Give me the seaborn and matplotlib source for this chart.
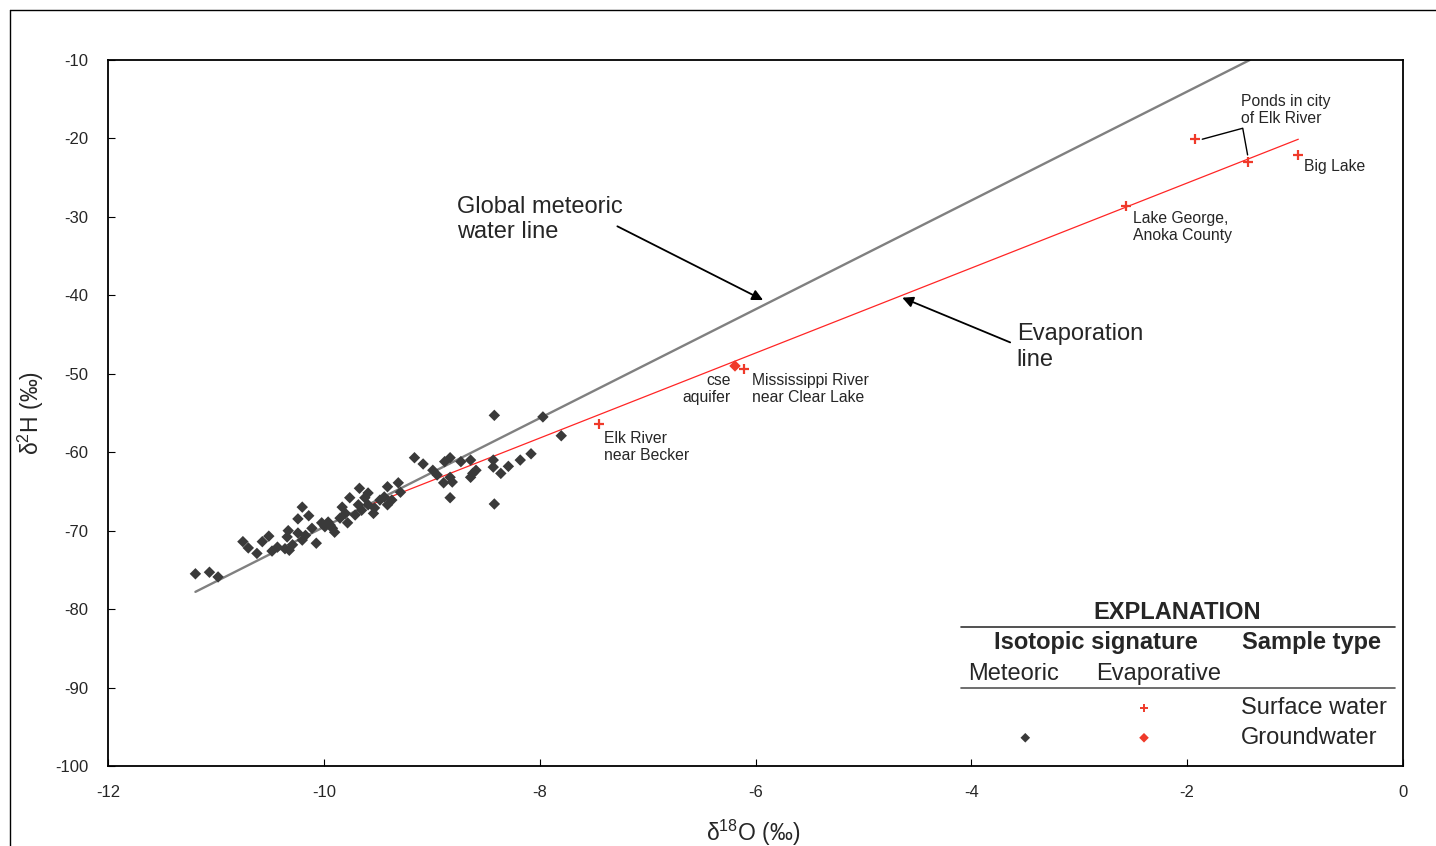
import matplotlib
matplotlib.use("Agg")
import matplotlib.pyplot as plt
from matplotlib.lines import Line2D
import seaborn as sns

sns.set_style("white")
plt.rcParams['font.family'] = ['Liberation Sans', 'DejaVu Sans']
plt.rcParams['mathtext.fontset'] = 'custom'
plt.rcParams['mathtext.rm'] = 'Liberation Sans'
plt.rcParams['mathtext.it'] = 'Liberation Sans'

# ---------------- data ----------------
# Groundwater, meteoric signature (delta 18O, delta 2H, per mil)
gw_d18o = [-11.19, -11.06, -10.98, -10.75, -10.70, -10.62, -10.57, -10.51, -10.48, -10.43,
           -10.36, -10.32, -10.34, -10.33, -10.24, -10.20, -10.14, -10.24, -10.20, -10.17,
           -10.07, -10.02, -9.96, -9.92, -9.90, -9.83, -9.80, -9.76, -9.78, -9.67,
           -9.59, -9.59, -9.65, -9.54, -9.48, -9.44, -9.41, -9.41, -9.31, -9.29,
           -9.16, -9.08, -8.99, -8.95, -8.88, -8.83, -8.89, -8.83, -8.81, -8.83,
           -8.73, -8.64, -8.59, -8.62, -8.64, -8.42, -8.43, -8.43, -8.36, -8.29,
           -8.18, -8.08, -8.42, -7.97, -7.80,
           -9.99, -9.94, -9.85, -9.71, -9.68, -9.62, -9.53, -9.37, -10.29, -10.11]
gw_d2h = [-75.5, -75.3, -75.9, -71.4, -72.2, -72.9, -71.4, -70.7, -72.6, -72.1,
          -72.3, -72.5, -70.8, -70.0, -68.5, -67.0, -68.1, -70.3, -71.2, -70.6,
          -71.6, -69.0, -68.9, -69.7, -70.2, -67.0, -67.8, -65.8, -69.0, -64.6,
          -65.2, -66.7, -67.4, -67.8, -66.1, -65.7, -66.7, -64.4, -63.9, -65.1,
          -60.7, -61.5, -62.3, -62.9, -61.2, -60.7, -63.9, -63.2, -63.8, -65.8,
          -61.2, -61.0, -62.3, -62.7, -63.2, -55.3, -61.0, -61.9, -62.7, -61.8,
          -61.0, -60.2, -66.6, -55.5, -57.9,
          -69.5, -69.3, -68.4, -68.0, -66.7, -65.8, -67.1, -66.1, -71.8, -69.7]

# Surface water, evaporative signature
sw_names = ["Elk River near Becker", "Mississippi River near Clear Lake",
            "Lake George, Anoka County", "Pond 1", "Pond 2", "Big Lake"]
sw_d18o = [-7.45, -6.11, -2.57, -1.93, -1.44, -0.97]
sw_d2h = [-56.4, -49.4, -28.6, -20.1, -23.0, -22.1]

# Groundwater, evaporative signature
gwe_d18o = [-6.19]
gwe_d2h = [-49.0]

# Reference lines
gmwl_x = [-11.19, -1.42]
gmwl_y = [-77.8, -10.0]
evap_x = [-9.55, -0.97]
evap_y = [-66.6, -20.1]

x_ticks = [-12, -10, -8, -6, -4, -2, 0]
y_ticks = [-10, -20, -30, -40, -50, -60, -70, -80, -90, -100]

# ---------------- styles ----------------
GRAY_PT = '#3a3a3a'
GRAY_LINE = '#808080'
RED_LINE = '#ff2525'
RED_PT = '#ef3a2a'

fig = plt.figure(figsize=(14.36, 8.46), dpi=100)
ax = fig.add_axes([108/1436, 1 - 766/846, (1403 - 108)/1436, (766 - 60)/846])

sns.lineplot(x=gmwl_x, y=gmwl_y, color=GRAY_LINE, lw=1.7, ax=ax, zorder=2, sort=False)
sns.lineplot(x=evap_x, y=evap_y, color=RED_LINE, lw=0.9, ax=ax, zorder=2, sort=False)

sns.scatterplot(x=gw_d18o, y=gw_d2h, marker='D', s=34, color=GRAY_PT, edgecolor='none',
                ax=ax, zorder=3)
sns.scatterplot(x=sw_d18o, y=sw_d2h, marker='+', s=42, color=RED_PT, linewidth=1.6,
                ax=ax, zorder=3)
sns.scatterplot(x=gwe_d18o, y=gwe_d2h, marker='D', s=34, color=RED_PT, edgecolor='none',
                ax=ax, zorder=3)

ax.set_xlim(-12, 0)
ax.set_ylim(-100, -10)
ax.set_xticks(x_ticks)
ax.set_yticks(y_ticks)
ax.set_xticklabels([str(t) for t in x_ticks])
ax.set_yticklabels([str(t) for t in y_ticks])
ax.tick_params(direction='in', length=5, width=0.8, color='black', labelsize=12,
               pad=14, bottom=True, left=True)
for sp in ax.spines.values():
    sp.set_color('black')
    sp.set_linewidth(1.3)

xl = ax.set_xlabel('δ$^{18}$O (‰)', fontsize=16.5)
ax.xaxis.set_label_coords((753 - 108) / 1295, (766 - 833) / 706)
xl.set_va('center')
yl = ax.set_ylabel('δ$^{2}$H (‰)', fontsize=16.5)
ax.yaxis.set_label_coords((31 - 108) / 1295, 0.5)
yl.set_va('center')

# ---------------- annotations ----------------
big = 17
small = 11.3
ax.text(-8.77, -30.3, "Global meteoric\nwater line", fontsize=big, ha='left', va='center',
        linespacing=1.2)
ax.annotate('', xy=(-5.93, -40.6), xytext=(-7.28, -31.2),
            arrowprops=dict(arrowstyle='-|>', color='black', lw=1.3, mutation_scale=16,
                            shrinkA=0, shrinkB=0))
ax.text(-3.58, -46.6, "Evaporation\nline", fontsize=big, ha='left', va='center',
        linespacing=1.2)
ax.annotate('', xy=(-4.64, -40.3), xytext=(-3.64, -46.0),
            arrowprops=dict(arrowstyle='-|>', color='black', lw=1.3, mutation_scale=16,
                            shrinkA=0, shrinkB=0))

ax.text(-6.23, -51.9, "cse\naquifer", fontsize=small, ha='right', va='center',
        multialignment='right', linespacing=1.15)
ax.text(-6.03, -51.9, "Mississippi River\nnear Clear Lake", fontsize=small, ha='left',
        va='center', linespacing=1.15)
ax.text(-7.40, -59.3, "Elk River\nnear Becker", fontsize=small, ha='left', va='center',
        linespacing=1.15)
ax.text(-2.50, -31.3, "Lake George,\nAnoka County", fontsize=small, ha='left', va='center',
        linespacing=1.15)
ax.text(-0.92, -23.6, "Big Lake", fontsize=small, ha='left', va='center')
ax.text(-1.50, -16.4, "Ponds in city\nof Elk River", fontsize=small, ha='left', va='center',
        linespacing=1.15)
# leader bracket from both ponds to the label
p1x, p1y = sw_d18o[3], sw_d2h[3]
p2x, p2y = sw_d18o[4], sw_d2h[4]
ax.plot([p1x + 0.07, p2x - 0.045, p2x], [p1y, -18.7, p2y + 0.9], color='black', lw=1.0,
        zorder=2)

# ---------------- explanation (legend) ----------------
ax.text(-2.09, -80.4, "EXPLANATION", fontsize=big, fontweight='bold', ha='center', va='center')
ax.plot([-4.10, -0.07], [-82.3, -82.3], color='#333333', lw=1.2)
ax.text(-2.85, -84.3, "Isotopic signature", fontsize=big, fontweight='bold', ha='center',
        va='center')
ax.text(-0.85, -84.3, "Sample type", fontsize=big, fontweight='bold', ha='center', va='center')
ax.text(-3.61, -88.3, "Meteoric", fontsize=big, ha='center', va='center')
ax.text(-2.26, -88.3, "Evaporative", fontsize=big, ha='center', va='center')
ax.plot([-4.10, -0.07], [-90.1, -90.1], color='#555555', lw=1.2)
ax.scatter([-2.40], [-92.6], marker='+', s=36, color=RED_PT, linewidth=1.4, zorder=3)
ax.text(-1.50, -92.6, "Surface water", fontsize=big, ha='left', va='center')
ax.scatter([-3.50], [-96.4], marker='D', s=24, color=GRAY_PT, edgecolor='none', zorder=3)
ax.scatter([-2.40], [-96.4], marker='D', s=24, color=RED_PT, edgecolor='none', zorder=3)
ax.text(-1.50, -96.4, "Groundwater", fontsize=big, ha='left', va='center')

# outer frame (top and left edges)
x0 = 10 / 1436
y0 = 1 - 10 / 846
fig.add_artist(Line2D([x0, 1.0], [y0, y0], transform=fig.transFigure, color='black', lw=1.0))
fig.add_artist(Line2D([x0, x0], [0.0, y0], transform=fig.transFigure, color='black', lw=1.0))

fig.savefig("out.png", dpi=100)
